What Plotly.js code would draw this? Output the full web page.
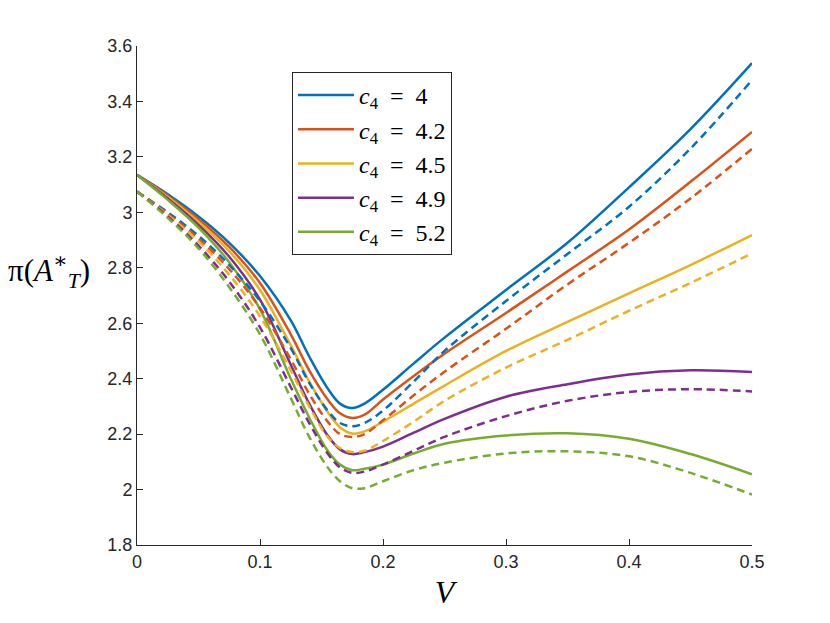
<!DOCTYPE html>
<html>
<head>
<meta charset="utf-8">
<script src="https://cdn.plot.ly/plotly-3.0.1.min.js"></script>
<style>
  html, body { margin: 0; padding: 0; background: #fff; }
  #chart { width: 830px; height: 623px; }
</style>
</head>
<body>
<div id="chart"></div>
<script>
// values
const V = [0, 0.025, 0.05, 0.075, 0.1, 0.125, 0.14, 0.155, 0.165, 0.175, 0.185, 0.2, 0.225, 0.25, 0.3, 0.35, 0.4, 0.45, 0.5];

const c4Labels = ['4', '4.2', '4.5', '4.9', '5.2'];
const colors = ['#0072BD', '#D95319', '#EDB120', '#7E2F8E', '#77AC30'];

// solid curves
const solid40 = [3.135, 3.065, 2.985, 2.89, 2.77, 2.61, 2.48, 2.365, 2.31, 2.294, 2.31, 2.36, 2.455, 2.548, 2.72, 2.89, 3.09, 3.30, 3.538];
const solid42 = [3.135, 3.06, 2.975, 2.875, 2.745, 2.56, 2.43, 2.325, 2.275, 2.258, 2.27, 2.325, 2.41, 2.49, 2.637, 2.787, 2.938, 3.11, 3.29];
const solid45 = [3.135, 3.055, 2.965, 2.86, 2.72, 2.52, 2.39, 2.28, 2.225, 2.202, 2.21, 2.245, 2.31, 2.375, 2.50, 2.605, 2.708, 2.81, 2.918];
const solid49 = [3.135, 3.05, 2.955, 2.84, 2.685, 2.45, 2.31, 2.195, 2.145, 2.128, 2.135, 2.155, 2.205, 2.255, 2.335, 2.38, 2.415, 2.43, 2.424];
const solid52 = [3.135, 3.045, 2.945, 2.82, 2.65, 2.40, 2.26, 2.14, 2.09, 2.07, 2.075, 2.09, 2.13, 2.165, 2.195, 2.203, 2.183, 2.128, 2.055];

// dashed curves
const dash40 = [3.075, 3.0, 2.915, 2.81, 2.68, 2.51, 2.385, 2.285, 2.24, 2.228, 2.24, 2.285, 2.39, 2.50, 2.68, 2.85, 3.02, 3.23, 3.477];
const dash42 = [3.075, 2.995, 2.905, 2.795, 2.655, 2.47, 2.345, 2.245, 2.20, 2.19, 2.20, 2.25, 2.34, 2.425, 2.58, 2.74, 2.89, 3.05, 3.229];
const dash45 = [3.075, 2.99, 2.895, 2.775, 2.625, 2.43, 2.30, 2.19, 2.15, 2.135, 2.14, 2.175, 2.245, 2.32, 2.44, 2.54, 2.645, 2.745, 2.852];
const dash49 = [3.075, 2.985, 2.88, 2.75, 2.585, 2.37, 2.24, 2.13, 2.08, 2.06, 2.065, 2.09, 2.14, 2.19, 2.265, 2.32, 2.352, 2.362, 2.354];
const dash52 = [3.075, 2.98, 2.87, 2.73, 2.56, 2.33, 2.19, 2.08, 2.03, 2.005, 2.005, 2.03, 2.07, 2.097, 2.13, 2.138, 2.12, 2.06, 1.982];

const solids = [solid40, solid42, solid45, solid49, solid52];
const dashes = [dash40, dash42, dash45, dash49, dash52];

const traces = [];
solids.forEach((ys, i) => {
    traces.push({
        x: V, y: ys, type: 'scatter', mode: 'lines',
        name: '<i>c</i><sub>4</sub>\u00a0\u00a0=\u00a0\u00a0' + c4Labels[i],
        legendgroup: 'g' + i,
        line: { color: colors[i], width: 2.5, shape: 'spline', smoothing: 1 }
    });
});
dashes.forEach((ys, i) => {
    traces.push({
        x: V, y: ys, type: 'scatter', mode: 'lines',
        name: 'dash ' + c4Labels[i],
        legendgroup: 'g' + i,
        showlegend: false,
        line: { color: colors[i], width: 2.5, dash: '8px,5px', shape: 'spline', smoothing: 1 }
    });
});

const axisColor = '#262626';
const tickFont = { family: 'Liberation Sans, Arial, sans-serif', size: 18, color: axisColor };
const serif = 'Liberation Serif, DejaVu Serif, serif';

const layout = {
    width: 830,
    height: 623,
    paper_bgcolor: '#ffffff',
    plot_bgcolor: '#ffffff',
    margin: { l: 137, r: 78, t: 46, b: 78 },
    showlegend: true,
    legend: {
        x: 0.252, y: 0.948, xanchor: 'left', yanchor: 'top',
        bgcolor: '#ffffff',
        bordercolor: axisColor, borderwidth: 1,
        font: { family: serif, size: 24, color: '#000000' },
        traceorder: 'grouped',
        tracegroupgap: 0,
        itemwidth: 56
    },
    xaxis: {
        range: [0, 0.5],
        dtick: 0.1, tick0: 0,
        ticks: 'inside', ticklen: 6, tickcolor: axisColor,
        showline: true, linecolor: axisColor, linewidth: 1,
        showgrid: false, zeroline: false,
        tickfont: tickFont,
        title: { text: '<i>V</i>', font: { family: serif, size: 32, color: '#000000' }, standoff: 10 }
    },
    yaxis: {
        range: [1.8, 3.6],
        dtick: 0.2, tick0: 1.8,
        ticks: 'inside', ticklen: 6, tickcolor: axisColor,
        showline: true, linecolor: axisColor, linewidth: 1,
        showgrid: false, zeroline: false,
        tickfont: tickFont
    },
    annotations: [{
        text: 'π(<i>A</i><sup>∗</sup><sub><i>T</i></sub>)',
        xref: 'paper', yref: 'paper',
        x: -0.143, y: 0.549, xanchor: 'center', yanchor: 'middle',
        showarrow: false,
        font: { family: serif, size: 31, color: '#000000' }
    }]
};

Plotly.newPlot('chart', traces, layout, { displayModeBar: false, staticPlot: true });
</script>
</body>
</html>
